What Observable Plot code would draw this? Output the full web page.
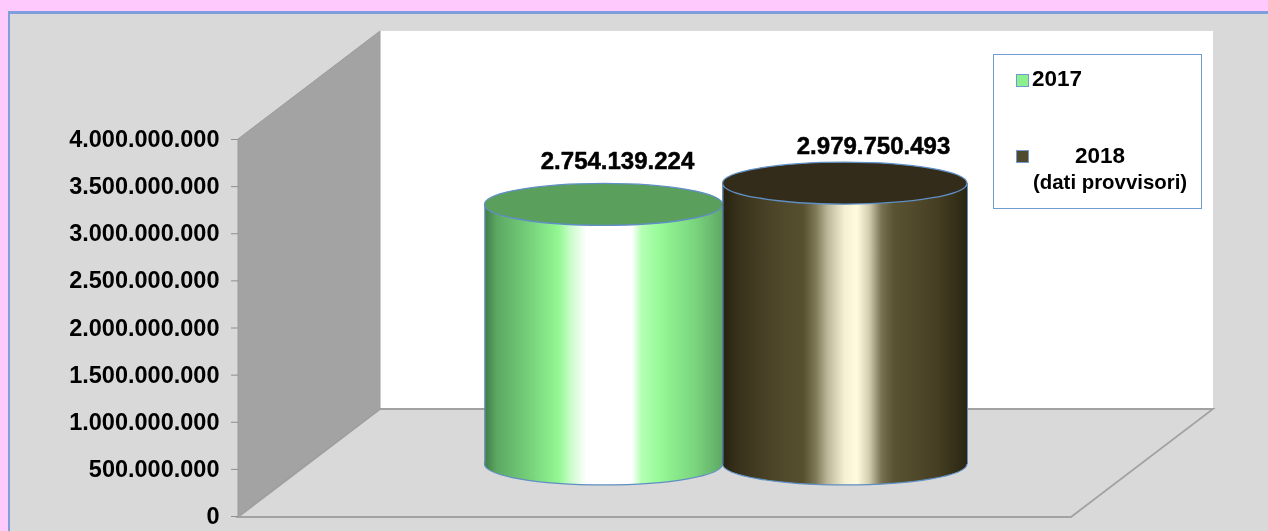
<!DOCTYPE html>
<html lang="it">
<head>
<meta charset="utf-8">
<script src="https://cdn.jsdelivr.net/npm/d3@7"></script>
<script src="https://cdn.jsdelivr.net/npm/@observablehq/plot@0.6"></script>
<style>
  html, body { margin: 0; padding: 0; width: 1268px; height: 531px; overflow: hidden; }
  body { background: #fec9fd; position: relative; font-family: "Liberation Sans", Arial, sans-serif; }
  #frame { position: absolute; left: 8px; top: 11px; width: 1300px; height: 560px; box-sizing: border-box; background: #d9d9d9; border-left: 2px solid #7f9fdc; border-top: 3px solid #7f9fdc; filter: blur(0.5px); }
  #chart { position: absolute; left: 0; top: 0; filter: blur(0.4px); }
  #chart svg { display: block; background: transparent; }
  #legend { position: absolute; left: 993px; top: 54px; width: 209px; height: 155px; box-sizing: border-box; border: 1.5px solid #6f9bd0; background: #fff; color: #000; font-weight: bold; filter: blur(0.4px); }
  #legend span { position: absolute; white-space: nowrap; line-height: 1; }
  #legend i { position: absolute; width: 13px; height: 13px; box-sizing: border-box; border: 1.5px solid #6f9bd0; }
</style>
</head>
<body>
<div id="frame"></div>
<div id="chart"></div>
<div id="legend"></div>
<script>
// Data
const years = ["2017", "2018"];
const values = [2754139224, 2979750493];
const legendLabels = ["2017", "2018", "(dati provvisori)"];
const yTicks = [0, 500000000, 1000000000, 1500000000, 2000000000, 2500000000, 3000000000, 3500000000, 4000000000];

// Layout of the pseudo-3D scene (separate from the data)
const floorLeft = 238, floorRight = 1071, depthX = 142, depthY = 107;
const plotBaseY = 516, plotTopY = 139;
const maxValue = 4000000000;
const baseValue = 552000000;                 // floor position of the columns, on the value axis
const columnX = { "2017": [484.5, 722.5], "2018": [722.5, 967] };
const labelPos = { "2017": [617, 161], "2018": [873, 146] };
const ellipseRy = 21;
const edge = "#5f8fc4";

const fmt = d3.formatLocale({ decimal: ",", thousands: ".", grouping: [3], currency: ["", ""] }).format(",");
const rows = years.map((year, i) => ({ year, value: values[i], x1: columnX[year][0], x2: columnX[year][1] }));

const svgNode = (name) => document.createElementNS("http://www.w3.org/2000/svg", name);

function gradients() {
  const defs = svgNode("defs");
  const sets = {
    g2017: [[0, "#3f7a46"], [0.05, "#5ca763"], [0.2, "#78d47c"], [0.31, "#92f792"], [0.36, "#c8fcc8"], [0.43, "#ffffff"], [0.62, "#ffffff"], [0.66, "#b4ffb4"], [0.73, "#98fb98"], [0.88, "#7bd67e"], [1, "#5fa966"]],
    g2018: [[0, "#26220f"], [0.06, "#37311b"], [0.2, "#4b4427"], [0.33, "#57502f"], [0.38, "#7d7757"], [0.43, "#bdb79a"], [0.5, "#f6f1d4"], [0.55, "#fffbde"], [0.6, "#d3cdb0"], [0.65, "#787152"], [0.7, "#5a5332"], [0.88, "#453e23"], [1, "#2a2612"]]
  };
  for (const id in sets) {
    const g = svgNode("linearGradient");
    g.setAttribute("id", id);
    for (const [o, c] of sets[id]) {
      const s = svgNode("stop");
      s.setAttribute("offset", o);
      s.setAttribute("stop-color", c);
      g.appendChild(s);
    }
    defs.appendChild(g);
  }
  return defs;
}

function walls(index, { x, y }) {
  const g = svgNode("g");
  const y0 = y(0), y1 = y(maxValue);
  const poly = (pts, fill, stroke, sw) => {
    const p = svgNode("polygon");
    p.setAttribute("points", pts.map((q) => q.join(",")).join(" "));
    p.setAttribute("fill", fill);
    if (stroke) { p.setAttribute("stroke", stroke); p.setAttribute("stroke-width", sw); }
    g.appendChild(p);
  };
  const L = x(floorLeft), R = x(floorRight);
  poly([[L + depthX, y1 - depthY - 1], [R + depthX, y1 - depthY - 1], [R + depthX, y0 - depthY], [L + depthX, y0 - depthY]], "#ffffff");
  poly([[L, y0 + 1], [R, y0 + 1], [R + depthX, y0 - depthY], [L + depthX, y0 - depthY]], "#d9d9d9", "#a2a2a2", 1.8);
  poly([[L, y0], [L, y1], [L + depthX, y1 - depthY - 1], [L + depthX, y0 - depthY]], "#a3a3a3", "#9c9c9c", 1);
  return g;
}

function ellipse(row, value, fill, strokeWidth) {
  return (index, { x, y }) => {
    const e = svgNode("ellipse");
    e.setAttribute("cx", (x(row.x1) + x(row.x2)) / 2);
    e.setAttribute("cy", y(baseValue + value));
    e.setAttribute("rx", (x(row.x2) - x(row.x1)) / 2);
    e.setAttribute("ry", ellipseRy);
    e.setAttribute("fill", fill);
    e.setAttribute("stroke", edge);
    e.setAttribute("stroke-width", strokeWidth);
    return e;
  };
}

function sideEdges(row) {
  return Plot.ruleX([row.x1, row.x2], {
    x: (d) => d,
    y1: baseValue,
    y2: baseValue + row.value,
    stroke: edge,
    strokeWidth: 1
  });
}

function column(row, gradient, topColor) {
  return [
    ellipse(row, 0, `url(#${gradient})`, 1.2),
    Plot.rect([row], { x1: "x1", x2: "x2", y1: () => baseValue, y2: (d) => baseValue + d.value, fill: `url(#${gradient})` }),
    sideEdges(row),
    ellipse(row, row.value, topColor, 1.3)
  ];
}

const chart = Plot.plot({
  width: 1268,
  height: 531,
  marginLeft: floorLeft,
  marginRight: 1268 - floorRight,
  marginTop: plotTopY,
  marginBottom: 531 - plotBaseY,
  x: { domain: [0, 1268], range: [0, 1268], axis: null },
  y: { domain: [0, maxValue], range: [plotBaseY, plotTopY], axis: null },
  style: { background: "transparent", fontFamily: "'Liberation Sans', Arial, sans-serif", color: "#000" },
  marks: [
    gradients,
    walls,
    Plot.axisY(yTicks, {
      anchor: "left",
      tickSize: 7,
      tickPadding: 12,
      tickFormat: fmt,
      fontSize: 23.5,
      fontWeight: "bold",
      stroke: "#8f8f8f",
      fill: "#000",
      label: null
    }),
    ...column(rows[0], "g2017", "#5aa05c"),
    ...column(rows[1], "g2018", "#332c1b"),
    Plot.text(rows, {
      x: (d) => labelPos[d.year][0],
      y: (d) => (plotBaseY - labelPos[d.year][1]) / (plotBaseY - plotTopY) * maxValue,
      text: (d) => fmt(d.value),
      fontSize: 24,
      fontWeight: "bold",
      fill: "#000",
      stroke: "#000",
      strokeWidth: 0.5
    })
  ]
});
document.getElementById("chart").appendChild(chart);

// Legend
const legend = d3.select("#legend");
legend.append("i").style("left", "22px").style("top", "19px").style("background", "#8cf08e");
legend.append("span").text(legendLabels[0]).style("left", "38px").style("top", "13px").style("font-size", "22.5px");
legend.append("i").style("left", "22px").style("top", "95px").style("background", "#51492d");
legend.append("span").text(legendLabels[1]).style("left", "81px").style("top", "90px").style("font-size", "22.5px");
legend.append("span").text(legendLabels[2]).style("left", "39px").style("top", "117px").style("font-size", "20.4px");
</script>
</body>
</html>
